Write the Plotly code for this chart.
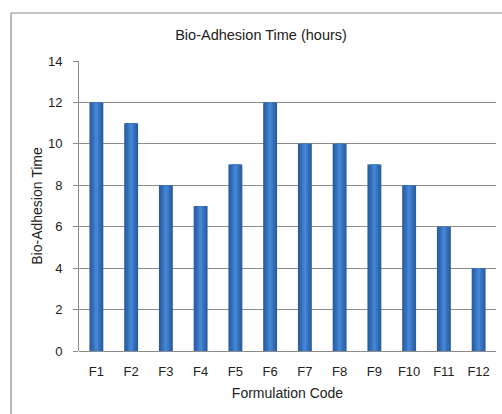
import plotly.graph_objects as go

codes = ["F1", "F2", "F3", "F4", "F5", "F6", "F7", "F8", "F9", "F10", "F11", "F12"]
hours = [12, 11, 8, 7, 9, 12, 10, 10, 9, 8, 6, 4]
y_ticks = [0, 2, 4, 6, 8, 10, 12, 14]

FONT = "Liberation Sans, Arial, sans-serif"
GRID = "#8c8c8c"
TEXT = "#222222"

fig = go.Figure()

# Layered bars give each column a rounded, cylinder-like shading
layers = [
    (0.40, "#2b5e9f"),
    (0.30, "#3169b2"),
    (0.18, "#3a78c6"),
    (0.08, "#4586d4"),
]
for w, col in layers:
    fig.add_trace(go.Bar(
        x=codes, y=hours, width=w,
        marker=dict(color=col, line=dict(width=0)),
        hoverinfo="x+y", showlegend=False,
    ))

fig.update_layout(
    width=502, height=414,
    margin=dict(l=79, r=6, t=61, b=63),
    paper_bgcolor="white", plot_bgcolor="white",
    barmode="overlay",
    font=dict(family=FONT, color=TEXT),
    title=dict(
        text="Bio-Adhesion Time (hours)",
        x=0.52, xref="container", xanchor="center",
        y=1 - 35 / 414, yref="container", yanchor="middle",
        font=dict(size=14.5, family=FONT, color=TEXT),
    ),
    xaxis=dict(
        showgrid=False, ticks="", showline=False,
        tickfont=dict(size=13, family=FONT, color=TEXT),
        ticklabelstandoff=11,
        title=dict(text="Formulation Code", standoff=10,
                   font=dict(size=14, family=FONT, color=TEXT)),
    ),
    yaxis=dict(
        range=[0, 14], tickvals=y_ticks,
        showgrid=True, gridcolor=GRID, gridwidth=1,
        zeroline=True, zerolinecolor=GRID, zerolinewidth=1,
        showline=True, linecolor=GRID, linewidth=1,
        ticks="outside", ticklen=5, tickcolor=GRID,
        ticklabelstandoff=8,
        tickfont=dict(size=13, family=FONT, color=TEXT),
        title=dict(text="Bio-Adhesion Time", standoff=2,
                   font=dict(size=14, family=FONT, color=TEXT)),
    ),
    shapes=[
        dict(type="line", xref="paper", yref="paper",
             x0=(11 - 79) / 417, x1=(11 - 79) / 417,
             y0=(351 - 414) / 290, y1=(351 - 13) / 290,
             line=dict(color="#8a8a8a", width=1.2)),
        dict(type="line", xref="paper", yref="paper",
             x0=(11 - 79) / 417, x1=(502 - 79) / 417,
             y0=(351 - 13) / 290, y1=(351 - 13) / 290,
             line=dict(color="#8a8a8a", width=1.2)),
    ],
)

fig.write_html("out.html")
